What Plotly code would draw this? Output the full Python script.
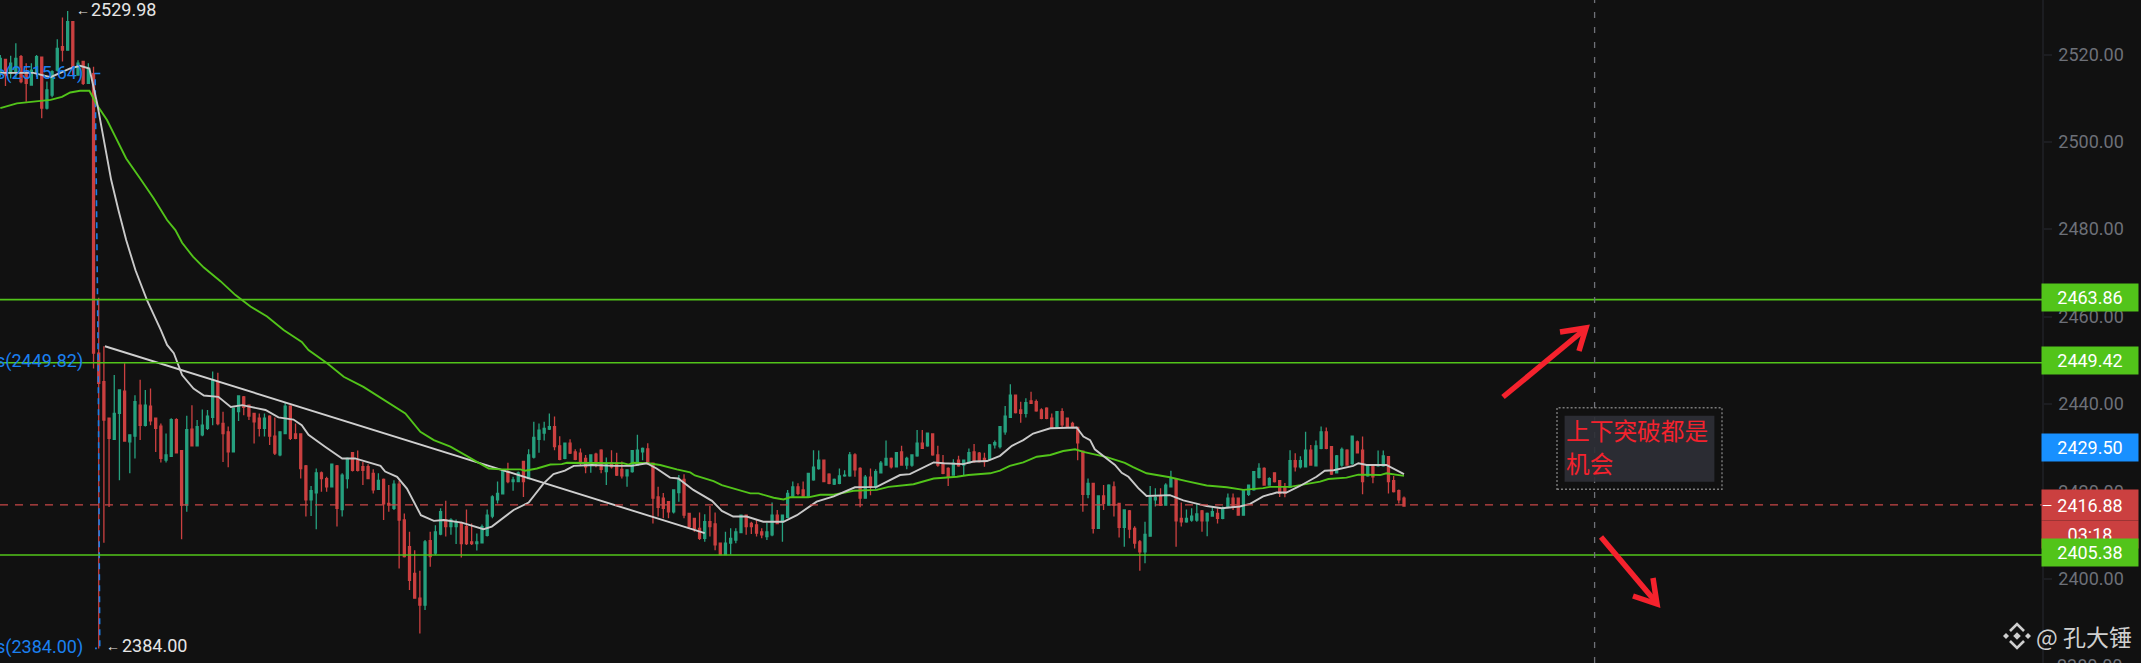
import plotly.graph_objects as go

# candle data, g = up candle, r = down candle
candle_dirs = (
    "grggrrggrg" "ggrgrgrgrr"
    "rrggrggrgr" "rrggrrgrgg"
    "ggrrrggrrr" "rgrrggrrrr"
    "ggrrgrggrr" "rrrgrrgrrr"
    "rrgrggrggr" "rrggggggrg"
    "grgggggrrg" "rrrrgrrgrr"
    "rggggrrrrr" "ggrrrrgrrr"
    "ggggrrrrgg" "rgggrrgggr"
    "rggggrrgrg" "ggrgrgggrg"
    "rrrrgrggrr" "rgggggrrgr"
    "rrrrgrrrrr" "grgrgrrgrr"
    "rgggrggrrg" "ggrggrggrr"
    "ggggrgrrrg" "rggrggrrgg"
    "rgrrgrggrr" "rr"
)

highs = [
    2519.9, 2518.9, 2519.7, 2522.6, 2519.9, 2518.0, 2518.0, 2519.9, 2519.4, 2513.8,
    2516.4, 2523.5, 2528.5, 2529.98, 2527.5, 2518.7, 2518.5, 2518.0, 2517.2, 2464.3,
    2453.2, 2436.7, 2446.6, 2443.2, 2449.3, 2432.9, 2442.0, 2445.5, 2443.2, 2443.5,
    2436.7, 2435.5, 2433.2, 2436.7, 2436.7, 2429.4, 2437.3, 2439.7, 2436.3, 2438.7,
    2438.6, 2447.4, 2447.1, 2438.2, 2434.8, 2439.0, 2441.8, 2441.8, 2439.7, 2437.8,
    2437.8, 2437.8, 2437.4, 2436.9, 2433.6, 2440.3, 2439.7, 2435.5, 2433.2, 2426.0,
    2421.2, 2425.2, 2424.5, 2423.3, 2426.2, 2426.0, 2424.1, 2427.7, 2429.0, 2429.3,
    2426.7, 2426.2, 2425.0, 2424.1, 2422.9, 2421.4, 2422.5, 2422.4, 2414.9, 2410.7,
    2406.5, 2401.8, 2408.8, 2410.7, 2412.2, 2416.1, 2417.8, 2413.8, 2413.5, 2413.0,
    2415.8, 2412.6, 2410.3, 2412.4, 2415.8, 2419.1, 2422.2, 2424.9, 2426.5, 2423.3,
    2424.5, 2426.9, 2429.6, 2435.9, 2435.5, 2435.9, 2437.8, 2437.1, 2432.6, 2431.0,
    2431.9, 2429.6, 2429.8, 2428.3, 2428.3, 2428.8, 2429.6, 2427.7, 2429.4, 2428.8,
    2426.8, 2424.9, 2429.3, 2432.9, 2430.0, 2431.0, 2426.4, 2421.0, 2419.6, 2417.6,
    2420.4, 2423.7, 2423.9, 2414.9, 2413.8, 2415.1, 2414.7, 2416.6, 2415.1, 2408.1,
    2410.7, 2411.5, 2411.5, 2414.5, 2414.5, 2413.0, 2413.4, 2411.5, 2412.8, 2417.4,
    2415.7, 2414.5, 2420.3, 2422.2, 2421.8, 2422.2, 2424.1, 2429.4, 2429.3, 2427.1,
    2424.1, 2422.9, 2425.2, 2424.8, 2429.0, 2428.7, 2425.5, 2423.7, 2425.2, 2425.0,
    2426.9, 2431.6, 2427.7, 2429.0, 2430.4, 2427.9, 2428.3, 2434.0, 2434.0, 2433.3,
    2433.1, 2430.4, 2428.3, 2425.5, 2427.3, 2428.1, 2427.1, 2429.8, 2430.8, 2429.0,
    2428.8, 2430.8, 2431.6, 2434.9, 2439.5, 2444.5, 2442.0, 2440.5, 2441.3, 2442.8,
    2441.0, 2439.0, 2439.2, 2437.8, 2438.2, 2439.0, 2436.7, 2435.9, 2434.6, 2429.3,
    2422.9, 2421.9, 2419.1, 2421.4, 2421.6, 2422.2, 2417.2, 2415.8, 2415.7, 2412.0,
    2408.8, 2413.0, 2421.2, 2420.7, 2420.7, 2421.8, 2424.7, 2422.9, 2417.4, 2415.8,
    2416.1, 2417.2, 2415.7, 2415.1, 2416.3, 2416.1, 2416.5, 2419.5, 2419.5, 2418.4,
    2420.1, 2421.4, 2424.5, 2426.4, 2425.5, 2423.2, 2424.2, 2422.4, 2421.9, 2429.4,
    2428.7, 2428.0, 2433.6, 2430.6, 2431.6, 2434.8, 2434.6, 2430.3, 2428.3, 2430.0,
    2429.6, 2432.6, 2431.6, 2432.5, 2426.0, 2426.0, 2429.3, 2429.3, 2427.9, 2423.5,
    2420.4, 2418.8,
]
body_tops = [
    2519.1, 2518.9, 2518.0, 2519.1, 2519.5, 2515.7, 2516.4, 2519.5, 2519.4, 2511.9,
    2516.1, 2521.4, 2521.8, 2527.5, 2527.5, 2518.0, 2518.4, 2516.8, 2515.6, 2451.6,
    2445.1, 2436.7, 2437.8, 2443.2, 2442.9, 2432.9, 2440.5, 2439.7, 2439.7, 2439.5,
    2436.7, 2434.9, 2428.3, 2436.4, 2436.4, 2429.3, 2434.1, 2434.2, 2434.8, 2435.1,
    2437.2, 2445.5, 2445.1, 2435.5, 2433.6, 2439.0, 2441.8, 2441.6, 2439.7, 2437.8,
    2436.7, 2436.7, 2437.2, 2432.6, 2433.6, 2439.5, 2439.5, 2433.1, 2433.1, 2425.8,
    2420.1, 2424.2, 2424.2, 2422.9, 2426.2, 2425.8, 2423.7, 2427.5, 2428.8, 2427.1,
    2425.6, 2425.6, 2424.1, 2422.5, 2422.7, 2417.2, 2421.6, 2421.6, 2413.4, 2407.3,
    2401.2, 2395.5, 2408.4, 2408.7, 2410.7, 2415.3, 2413.4, 2413.4, 2412.8, 2412.8,
    2411.9, 2408.4, 2408.4, 2411.9, 2414.5, 2418.7, 2419.5, 2424.7, 2424.5, 2422.6,
    2424.2, 2426.8, 2428.3, 2432.3, 2434.0, 2434.4, 2434.8, 2434.8, 2430.4, 2431.0,
    2431.0, 2429.0, 2428.7, 2427.5, 2428.3, 2428.5, 2429.4, 2426.0, 2426.5, 2426.4,
    2425.0, 2424.9, 2429.3, 2429.4, 2429.8, 2429.7, 2426.4, 2418.7, 2418.4, 2417.6,
    2420.3, 2422.7, 2422.7, 2414.9, 2413.8, 2411.5, 2413.0, 2413.0, 2412.5, 2408.1,
    2408.1, 2409.2, 2410.7, 2414.5, 2414.5, 2412.6, 2412.3, 2410.7, 2410.7, 2414.5,
    2414.5, 2414.5, 2419.5, 2421.0, 2421.0, 2420.3, 2424.1, 2425.5, 2427.1, 2427.1,
    2423.9, 2422.7, 2423.5, 2423.7, 2428.3, 2428.3, 2425.2, 2423.2, 2423.2, 2424.5,
    2426.4, 2427.5, 2427.5, 2428.8, 2429.0, 2427.5, 2428.3, 2431.0, 2431.0, 2433.3,
    2433.1, 2428.3, 2426.4, 2425.2, 2426.4, 2427.1, 2427.1, 2428.8, 2429.0, 2428.7,
    2427.5, 2430.6, 2431.1, 2434.8, 2437.2, 2442.0, 2442.0, 2438.6, 2440.3, 2440.7,
    2440.5, 2438.6, 2439.0, 2436.7, 2438.2, 2438.2, 2436.7, 2435.5, 2434.6, 2429.2,
    2421.8, 2421.8, 2418.9, 2418.9, 2421.4, 2421.0, 2417.2, 2415.7, 2415.5, 2411.5,
    2408.4, 2410.1, 2418.6, 2418.6, 2418.9, 2421.4, 2422.9, 2422.7, 2413.8, 2413.8,
    2414.3, 2414.8, 2415.5, 2414.9, 2415.3, 2414.9, 2416.1, 2418.4, 2418.4, 2418.4,
    2420.1, 2421.4, 2424.5, 2425.2, 2425.2, 2422.9, 2424.2, 2422.4, 2420.9, 2427.0,
    2427.0, 2427.0, 2429.4, 2429.4, 2430.4, 2433.6, 2433.6, 2430.2, 2428.1, 2429.6,
    2429.4, 2432.6, 2431.3, 2429.4, 2425.8, 2425.8, 2426.0, 2428.1, 2427.9, 2422.4,
    2420.1, 2418.4,
]
body_bottoms = [
    2516.1, 2515.3, 2515.7, 2516.1, 2513.8, 2513.4, 2513.0, 2515.7, 2507.7, 2507.7,
    2510.7, 2516.4, 2521.0, 2521.0, 2517.2, 2515.3, 2513.4, 2513.4, 2451.6, 2444.7,
    2436.3, 2432.1, 2431.9, 2437.8, 2431.5, 2431.3, 2432.6, 2435.1, 2435.1, 2436.1,
    2434.4, 2427.5, 2427.1, 2428.0, 2428.8, 2416.8, 2416.8, 2430.4, 2430.4, 2432.9,
    2434.4, 2436.9, 2435.5, 2433.2, 2429.0, 2429.0, 2438.2, 2439.2, 2437.2, 2435.9,
    2434.4, 2434.4, 2432.6, 2428.7, 2428.3, 2433.2, 2432.1, 2432.1, 2425.2, 2418.0,
    2418.0, 2419.6, 2422.9, 2421.0, 2421.0, 2416.1, 2415.8, 2422.9, 2424.8, 2424.8,
    2424.8, 2422.9, 2420.3, 2420.4, 2417.1, 2416.8, 2416.1, 2413.4, 2405.0, 2399.6,
    2395.5, 2393.9, 2393.9, 2405.0, 2405.8, 2410.2, 2411.9, 2411.9, 2411.9, 2408.0,
    2408.0, 2408.0, 2408.0, 2408.2, 2409.9, 2414.3, 2418.0, 2419.4, 2422.2, 2422.2,
    2422.2, 2422.2, 2422.9, 2427.8, 2431.9, 2433.3, 2434.2, 2430.2, 2427.3, 2427.5,
    2428.7, 2427.3, 2426.8, 2425.6, 2426.4, 2426.4, 2425.0, 2424.5, 2425.6, 2423.7,
    2423.5, 2423.5, 2424.5, 2426.0, 2429.0, 2426.4, 2418.4, 2416.3, 2416.1, 2415.3,
    2415.3, 2419.7, 2414.5, 2411.9, 2411.5, 2409.2, 2409.2, 2411.9, 2407.7, 2405.5,
    2405.5, 2408.1, 2408.8, 2410.5, 2411.9, 2411.9, 2410.4, 2410.0, 2409.6, 2410.0,
    2412.6, 2413.0, 2414.0, 2418.9, 2419.5, 2418.9, 2418.7, 2422.6, 2425.2, 2422.2,
    2421.8, 2421.6, 2421.8, 2423.5, 2423.5, 2424.9, 2418.4, 2418.4, 2421.0, 2421.0,
    2424.2, 2426.0, 2425.6, 2425.6, 2426.0, 2426.0, 2426.0, 2428.1, 2429.8, 2430.4,
    2428.3, 2426.0, 2424.1, 2423.3, 2423.7, 2425.8, 2426.0, 2426.5, 2426.8, 2426.8,
    2426.8, 2427.3, 2430.6, 2430.2, 2433.6, 2436.9, 2438.0, 2437.8, 2437.8, 2440.1,
    2438.4, 2436.7, 2436.7, 2434.6, 2434.6, 2435.2, 2434.8, 2434.6, 2431.1, 2419.3,
    2419.3, 2411.5, 2411.5, 2417.2, 2416.8, 2416.8, 2411.7, 2411.7, 2411.3, 2408.1,
    2406.1, 2406.1, 2409.7, 2418.0, 2416.8, 2416.8, 2421.0, 2413.2, 2413.0, 2413.0,
    2413.4, 2413.4, 2413.2, 2413.2, 2414.3, 2413.8, 2413.8, 2416.3, 2416.6, 2414.5,
    2414.5, 2419.3, 2420.3, 2423.2, 2421.4, 2421.4, 2422.2, 2419.5, 2419.5, 2420.9,
    2425.6, 2425.6, 2425.6, 2426.0, 2425.8, 2429.8, 2429.8, 2423.9, 2424.2, 2426.0,
    2426.0, 2426.4, 2428.8, 2422.2, 2423.5, 2423.3, 2425.8, 2425.8, 2422.2, 2419.9,
    2418.0, 2416.6,
]
lows = [
    2514.9, 2512.8, 2514.5, 2514.5, 2513.4, 2509.2, 2513.0, 2514.9, 2505.4, 2507.4,
    2510.2, 2516.1, 2518.4, 2521.0, 2515.3, 2515.3, 2513.0, 2513.4, 2448.1, 2384.0,
    2408.2, 2416.4, 2431.9, 2422.5, 2431.3, 2424.1, 2427.5, 2431.7, 2434.8, 2435.1,
    2429.0, 2426.6, 2426.6, 2427.9, 2428.7, 2409.0, 2415.3, 2430.4, 2430.3, 2432.6,
    2434.0, 2435.1, 2435.1, 2426.7, 2425.5, 2429.0, 2436.1, 2437.4, 2436.3, 2430.9,
    2432.5, 2432.5, 2430.6, 2428.3, 2428.0, 2433.2, 2431.7, 2431.9, 2422.9, 2414.2,
    2414.3, 2411.3, 2419.9, 2419.9, 2421.0, 2411.9, 2414.2, 2420.6, 2424.5, 2424.5,
    2421.4, 2422.9, 2419.5, 2420.3, 2413.4, 2415.3, 2415.7, 2402.3, 2404.8, 2397.4,
    2395.5, 2387.4, 2392.8, 2402.7, 2405.4, 2409.9, 2409.6, 2410.0, 2407.9, 2404.8,
    2407.7, 2407.7, 2406.4, 2408.0, 2409.6, 2413.8, 2417.2, 2419.4, 2421.8, 2420.1,
    2422.2, 2418.7, 2422.9, 2427.5, 2428.8, 2431.6, 2434.0, 2429.4, 2427.1, 2427.3,
    2428.5, 2427.1, 2425.8, 2424.1, 2424.2, 2425.5, 2424.1, 2421.4, 2425.2, 2423.5,
    2422.9, 2421.0, 2424.2, 2426.0, 2427.1, 2426.0, 2412.6, 2414.2, 2413.8, 2413.8,
    2414.9, 2417.6, 2413.8, 2411.5, 2410.7, 2408.8, 2408.4, 2409.6, 2406.5, 2405.5,
    2405.5, 2405.5, 2408.1, 2410.5, 2410.0, 2410.2, 2409.6, 2409.2, 2408.8, 2409.7,
    2412.5, 2408.4, 2413.8, 2418.7, 2419.1, 2418.7, 2418.6, 2422.4, 2424.9, 2422.2,
    2421.6, 2421.4, 2421.6, 2423.3, 2423.3, 2423.3, 2416.3, 2418.4, 2419.1, 2420.4,
    2424.1, 2425.8, 2425.2, 2425.5, 2425.8, 2425.0, 2425.6, 2427.9, 2429.7, 2430.2,
    2428.1, 2425.6, 2423.9, 2421.2, 2423.6, 2425.6, 2423.7, 2426.4, 2426.5, 2426.6,
    2425.6, 2427.1, 2429.8, 2429.8, 2432.9, 2436.9, 2437.8, 2435.7, 2436.9, 2440.0,
    2438.2, 2436.5, 2436.5, 2434.6, 2434.6, 2434.6, 2434.6, 2434.4, 2427.1, 2415.3,
    2418.4, 2410.3, 2411.5, 2415.7, 2416.8, 2414.2, 2409.4, 2407.3, 2409.2, 2406.9,
    2401.8, 2403.5, 2409.7, 2416.5, 2416.6, 2416.8, 2421.0, 2407.3, 2411.9, 2412.8,
    2413.0, 2413.0, 2410.7, 2409.7, 2414.2, 2412.6, 2413.6, 2416.1, 2415.7, 2414.5,
    2414.5, 2418.9, 2420.1, 2422.9, 2421.3, 2421.3, 2422.0, 2418.7, 2418.6, 2420.9,
    2424.5, 2425.2, 2425.5, 2425.8, 2425.8, 2429.6, 2429.6, 2423.7, 2424.1, 2425.6,
    2425.8, 2426.0, 2428.7, 2419.3, 2423.3, 2421.8, 2425.6, 2425.6, 2419.5, 2419.7,
    2417.2, 2416.6,
]

# moving averages, vertices only: candle index, price
white_x = [
    0, 6.4, 9.7, 13.5, 15.4, 17.2, 18.7, 20.6, 21.4, 22.8, 24.3, 26.1, 28.3, 31.0,
    32.2, 33.5, 35.1, 37.3, 39.3, 42.1, 44.5, 46.7, 51.2, 53.7, 56.6, 58.2, 59.5, 62.7,
    66.0, 68.5, 73.4, 74.3, 76.6, 78.5, 81.2, 83.7, 85.6, 89.1, 93.3, 94.9, 96.5,
    99.1, 102, 104.9, 106.8, 109, 110.7, 114.2, 118.7, 121.9, 124.8, 126.7, 129.3,
    130.9, 133.8, 137.4, 139.3, 141.5, 144.1, 147.3, 151.2, 153.8, 157.6, 160.9,
    165, 169.2, 173.7, 175.6, 180.2, 182.1, 185.9, 187.9, 190.5, 193.0,
    195.3, 197.5, 199.4, 202.7, 207.8, 209.1, 210.4, 211.3, 215.2, 216.5, 217.8,
    219.7, 221.3, 225.8, 228.4, 232.9, 235.8, 239.3, 241.3, 243.8, 246.4, 248.3,
    250.9, 254.1, 255.7, 257.4, 261.2, 262.2, 263.8, 267.6, 271,
]
white_y = [
    2515.8, 2515.8, 2514.8, 2516.8, 2517.4, 2516.8, 2508.8, 2496.6, 2491.3, 2484.4, 2477.5, 2470.6, 2463.8, 2456.9,
    2453.5, 2451.6, 2446.6, 2443.5, 2441.9, 2441.6, 2439.3, 2439.7, 2438.6, 2436.9, 2436.4, 2435.1, 2432.9, 2430.2,
    2427.5, 2427.5, 2425.8, 2424.5, 2423.3, 2420.6, 2414.5, 2413.2, 2413.4, 2412.8, 2411.3, 2411.9, 2413.4,
    2415.7, 2417.4, 2421.8, 2423.9, 2424.7, 2425.8, 2426.0, 2425.8, 2425.8, 2426.4, 2425.2, 2423.1,
    2422.9, 2420.3, 2417.8, 2415.5, 2414.2, 2414.2, 2413.0, 2413.0, 2414.5, 2417.6, 2418.8,
    2420.9, 2421.0, 2423.7, 2423.9, 2426.6, 2426.4, 2426.2, 2426.8, 2426.9, 2428.1,
    2430.4, 2431.7, 2433.2, 2434.4, 2434.6, 2432.5, 2431.7, 2429.6, 2426.0, 2424.2, 2423.3,
    2420.7, 2418.9, 2419.1, 2417.9, 2416.6, 2416.1, 2416.5, 2417.1, 2418.8, 2419.7, 2419.7,
    2421.2, 2423.3, 2424.7, 2424.8, 2425.8, 2426.4, 2426.0, 2426.0, 2423.9,
]
green_x = [
    0, 3.2, 6.4, 9.7, 11.9, 13.5, 15.4, 17.2, 18.7, 20.6, 22.2, 24.3, 27, 29.6, 32.2,
    33.8, 35.1, 37.2, 39.3, 42.5, 45.4, 48.3, 51.5, 54.7,
    58.2, 59.5, 63.1, 66.3, 70.1, 74, 78.2, 81.1, 83.7, 86.9, 91.4, 94.3, 96.5,
    100.4, 101.3, 103.6, 106.2, 108.4, 109.4, 120.3, 121.3, 122.2, 125.1, 127.4, 130.6,
    133.2, 134.1, 137.7, 139.3, 144.8, 146.4, 149.3, 151.2, 152.5, 156, 158.3, 160.9,
    164.7, 169.2, 171.5, 176.3, 180.2, 184.7, 186.9, 191.1, 193,
    194.9, 197.5, 200.1, 202.7, 205.2, 207.5, 209.1, 213.6, 217.1, 218.7, 221.3, 224.5,
    225.8, 229, 232.9, 236.8, 240, 243.8, 245.1, 249, 252.2, 254.8, 256.4, 259.9,
    262.2, 266.4, 267.6, 271,
]
green_y = [
    2507.7, 2508.8, 2509.2, 2509.6, 2510.3, 2511.3, 2511.7, 2511.7, 2508.4, 2505.0, 2501.2, 2496.2, 2491.6, 2487.1, 2482.1,
    2479.8, 2476.9, 2473.7, 2471.2, 2468.1, 2464.9, 2462.3, 2460.0, 2456.9,
    2454.2, 2452.3, 2449.3, 2446.2, 2443.9, 2440.9, 2437.8, 2433.6, 2431.7, 2430.2, 2427.1, 2425.2, 2425.0,
    2425.0, 2424.7, 2425.2, 2426.1, 2426.2, 2426.5, 2426.4, 2426.1, 2426.5, 2426.4, 2426.0, 2425.0,
    2424.3, 2423.6, 2422.3, 2421.4, 2419.5, 2419.5, 2418.5, 2418.1, 2418.6, 2418.6, 2419.2, 2419.2,
    2420.1, 2420.3, 2421.0, 2421.6, 2422.9, 2423.3, 2423.7, 2424.1, 2424.7,
    2425.8, 2426.6, 2427.9, 2428.3, 2429.2, 2429.6, 2429.0, 2427.8, 2426.5, 2425.5, 2424.1, 2423.5,
    2423.2, 2422.3, 2421.3, 2420.9, 2420.3, 2420.7, 2421.0, 2421.0, 2421.6, 2422.2, 2422.8, 2423.1,
    2423.8, 2423.7, 2424.1, 2423.5,
]

trend_x = [20.2, 136]
trend_y = [2453.2, 2410.4]

fib_x = [19.3, 18.3, 18.9, 19.2, 18.3]
fib_y = [2515.64, 2515.64, 2449.82, 2384.0, 2384.0]

tick_values = [2400, 2420, 2440, 2460, 2480, 2500, 2520]
tick_labels = ["2400.00", "2420.00", "2440.00", "2460.00", "2480.00", "2500.00", "2520.00"]

level_prices = [2463.86, 2449.42, 2405.38]
last_price = 2416.88

BG = "#111111"
GREEN = "#52c41a"
RED = "#f5222d"
PLOT_W = 2042
H = 663


def fx(px):
    return px / PLOT_W


def fy(py):
    return 1 - py / H


opens = [b if d == "g" else t for d, t, b in zip(candle_dirs, body_tops, body_bottoms)]
closes = [t if d == "g" else b for d, t, b in zip(candle_dirs, body_tops, body_bottoms)]
xs = list(range(len(highs)))
step = 1403.7 / (len(xs) - 1)

fig = go.Figure()
fig.add_trace(go.Candlestick(
    x=xs, open=opens, high=highs, low=lows, close=closes, whiskerwidth=0,
    increasing=dict(line=dict(color="#26a17f", width=1.3), fillcolor="#26a17f"),
    decreasing=dict(line=dict(color="#cb4040", width=1.3), fillcolor="#cb4040"),
))
fig.add_trace(go.Scatter(x=fib_x, y=fib_y, mode="lines", line=dict(color="#1b7fe8", width=1.6, dash="6px,5px")))
fig.add_trace(go.Scatter(x=trend_x, y=trend_y, mode="lines", line=dict(color="#cfcfcf", width=1.9)))
fig.add_trace(go.Scatter(x=green_x, y=green_y, mode="lines", line=dict(color=GREEN, width=1.9)))
fig.add_trace(go.Scatter(x=white_x, y=white_y, mode="lines", line=dict(color="#c9c9c9", width=1.9)))

shapes = []
for p in level_prices:
    shapes.append(dict(type="line", xref="paper", yref="y", x0=0, x1=1, y0=p, y1=p, line=dict(color=GREEN, width=1.6)))
shapes.append(dict(type="line", xref="paper", yref="y", x0=0, x1=1, y0=last_price, y1=last_price,
                   line=dict(color="#c84747", width=1.4, dash="8px,7px")))
# vertical crosshair
shapes.append(dict(type="line", xref="paper", yref="paper", x0=fx(1594.6), x1=fx(1594.6), y0=0, y1=1,
                   line=dict(color="#6f7178", width=1.3, dash="6px,9px")))
# note box
shapes.append(dict(type="rect", xref="paper", yref="paper", x0=fx(1564.6), x1=fx(1714.4), y0=fy(481.7), y1=fy(415.7),
                   fillcolor="rgba(46,47,54,0.92)", line=dict(width=0)))
shapes.append(dict(type="rect", xref="paper", yref="paper", x0=fx(1557), x1=fx(1722), y0=fy(489.3), y1=fy(407.7),
                   line=dict(color="#7b7b7b", width=1.4, dash="2px,2px")))


def path(points):
    return "M " + " L ".join(f"{fx(a):.5f},{fy(b):.5f}" for a, b in points)


# hand drawn arrows
for pts in [
    [(1503, 397), (1584, 330)],
    [(1560, 332), (1586, 328), (1579, 351)],
    [(1601, 537), (1655, 601)],
    [(1633, 596), (1657, 604), (1653, 578)],
]:
    shapes.append(dict(type="path", xref="paper", yref="paper", path=path(pts), line=dict(color=RED, width=5.5)))

# watermark logo
logo_x, logo_y = 2017, 636
for pts in [[(-7, -5), (0, -12), (7, -5)], [(-7, 5), (0, 12), (7, 5)]]:
    shapes.append(dict(type="path", xref="paper", yref="paper",
                       path=path([(logo_x + a, logo_y + b) for a, b in pts]),
                       line=dict(color="#cfcfcf", width=2.6)))
for ox, r in [(-11, 3), (0, 3.8), (11, 3)]:
    cx = logo_x + ox
    shapes.append(dict(type="path", xref="paper", yref="paper", fillcolor="#cfcfcf", line=dict(width=0),
                       path=path([(cx - r, logo_y), (cx, logo_y - r), (cx + r, logo_y), (cx, logo_y + r)]) + " Z"))

annotations = []


def note(text, px, py, color, size=18, anchor="left", family="Roboto", **kw):
    annotations.append(dict(text=text, xref="paper", yref="paper", x=fx(px), y=fy(py), xanchor=anchor, yanchor="middle",
                            showarrow=False, font=dict(color=color, size=size, family=family), borderpad=0, **kw))


note("2380.00", 2056, 665.5, "#6d7078")
note("←", 75, 10.5, "#e6e6e6", size=14)
note("2529.98", 90, 9.5, "#e6e6e6")
note("←", 105, 646, "#e6e6e6", size=14)
note("2384.00", 121, 645, "#e6e6e6")
note("s(2515.64)", 84, 73, "#1b80f0", anchor="right")
note("s(2449.82)", 84, 360.7, "#1b80f0", anchor="right")
note("s(2384.00)", 84, 646.7, "#1b80f0", anchor="right")

# price tags on the axis, later ones sit on top of earlier ones
for text, top, color, h in [
    ("2463.86", 284.3, "#52c41a", 27),
    ("2449.42", 347, "#52c41a", 27),
    ("2429.50", 434, "#1890ff", 27),
    ("2416.88", 489.5, "#cb4040", 30),
    ("03:18", 521, "#cb4040", 27),
    ("2405.38", 539, "#52c41a", 27),
]:
    note(text, 2041, top + h / 2, "#ffffff", bgcolor=color, width=96, height=h, align="center")
note("—", 2041, 505, "#ffffff", size=13)

note("上下突破都是", 1564.5, 430, "#f5222d", size=23.7, family="Noto Sans CJK SC")
note("机会", 1564.5, 463, "#f5222d", size=23.7, family="Noto Sans CJK SC")
note("@ 孔大锤", 2035, 636, "#cfcfcf", size=23, family="Noto Sans CJK SC")

fig.update_layout(
    width=2141, height=H, showlegend=False, paper_bgcolor=BG, plot_bgcolor=BG,
    margin=dict(l=0, r=99, t=0, b=0, pad=0), hovermode=False, boxgap=0.45,
    shapes=shapes, annotations=annotations,
    xaxis=dict(visible=False, rangeslider=dict(visible=False), range=[-0.3 / step, (PLOT_W - 0.3) / step]),
    yaxis=dict(side="right", range=[2380.66, 2532.48], tickvals=tick_values, ticktext=tick_labels,
               showgrid=False, zeroline=False, showline=True, linecolor="#1c1d21", linewidth=1.5,
               ticks="outside", ticklen=8, tickcolor="#1c1d21", tickwidth=1.5, ticklabelstandoff=3,
               tickfont=dict(family="Roboto", size=18, color="#6d7078")),
)

fig.write_html("out.html", config=dict(displayModeBar=False),
               post_script="document.body.style.margin='0';document.body.style.background='#111111';")
